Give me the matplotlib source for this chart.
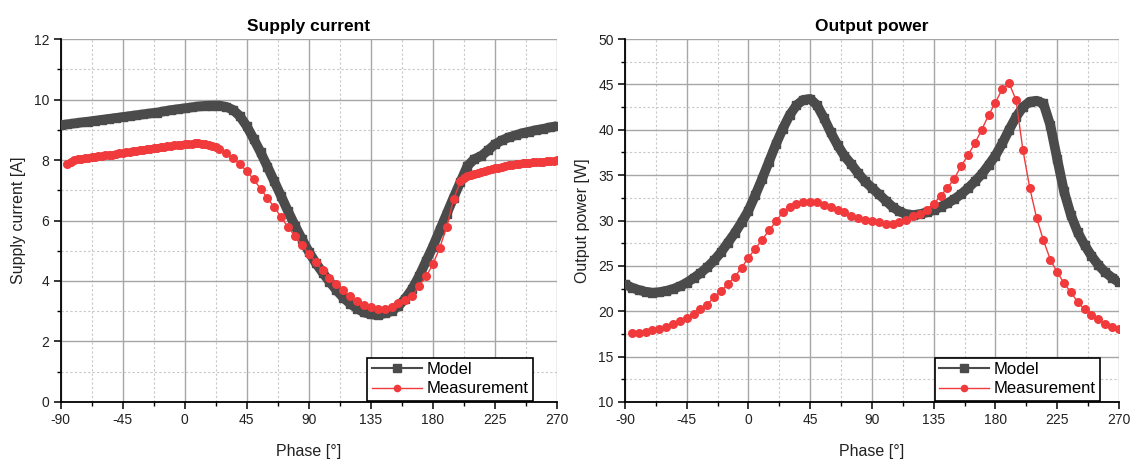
import matplotlib
matplotlib.use("Agg")
import matplotlib.pyplot as plt
import numpy as np
from matplotlib.ticker import MultipleLocator

plt.rcParams["font.family"] = ["Liberation Sans", "DejaVu Sans"]
plt.rcParams["axes.unicode_minus"] = False

# phase axis (degrees)
model_phase = np.arange(-90, 271, 5)
current_meas_phase = np.concatenate([np.arange(-85, 27.5, 2.5),
                                     np.arange(30, 205, 5),
                                     np.arange(202.5, 271, 2.5)])
power_meas_phase = np.arange(-85, 271, 5)

# supply current [A]
current_model = [
    9.15, 9.18, 9.21, 9.24, 9.27, 9.30, 9.33, 9.36, 9.39, 9.42,
    9.45, 9.48, 9.51, 9.54, 9.57, 9.61, 9.65, 9.68, 9.71, 9.74,
    9.77, 9.79, 9.80, 9.80, 9.76, 9.66, 9.45, 9.12, 8.70, 8.26,
    7.78, 7.29, 6.80, 6.30, 5.83, 5.39, 4.97, 4.60, 4.28, 3.98,
    3.70, 3.45, 3.25, 3.09, 2.96, 2.90, 2.88, 2.93, 3.00, 3.17,
    3.42, 3.74, 4.16, 4.65, 5.14, 5.68, 6.22, 6.76, 7.28, 7.80,
    8.03, 8.13, 8.32, 8.52, 8.65, 8.75, 8.82, 8.89, 8.94, 8.99,
    9.03, 9.08, 9.12,
]
current_meas = [
    7.88, 7.95, 8.00, 8.02, 8.04, 8.06, 8.07, 8.09, 8.10, 8.12,
    8.13, 8.15, 8.17, 8.18, 8.20, 8.22, 8.24, 8.25, 8.27, 8.29,
    8.30, 8.32, 8.34, 8.36, 8.37, 8.39, 8.41, 8.42, 8.44, 8.45,
    8.47, 8.48, 8.50, 8.51, 8.52, 8.53, 8.54, 8.55, 8.55, 8.54,
    8.53, 8.51, 8.47, 8.42, 8.37,
    8.22, 8.06, 7.86, 7.63, 7.36, 7.05, 6.74, 6.44, 6.10, 5.78,
    5.48, 5.20, 4.90, 4.63, 4.35, 4.10, 3.89, 3.70, 3.50, 3.34,
    3.22, 3.13, 3.09, 3.09, 3.14, 3.26, 3.36, 3.50, 3.85, 4.15,
    4.55, 5.10, 5.80, 6.70, 7.30,
    7.40, 7.46, 7.50, 7.53, 7.57, 7.60, 7.63, 7.66, 7.69, 7.72,
    7.75, 7.78, 7.80, 7.82, 7.84, 7.86, 7.88, 7.89, 7.90, 7.91,
    7.92, 7.93, 7.94, 7.95, 7.96, 7.97, 7.98, 8.00,
]

# output power [W]
power_model = [
    23.0, 22.6, 22.35, 22.15, 22.05, 22.1, 22.25, 22.45, 22.75, 23.15,
    23.65, 24.2, 24.85, 25.6, 26.5, 27.55, 28.6, 29.8, 31.1, 32.8,
    34.6, 36.5, 38.4, 40.1, 41.6, 42.7, 43.3, 43.4, 42.7, 41.3,
    39.7, 38.3, 37.1, 36.2, 35.2, 34.3, 33.6, 32.9, 32.2, 31.5,
    31.0, 30.7, 30.6, 30.7, 30.9, 31.15, 31.5, 31.9, 32.35, 32.9,
    33.55, 34.3, 35.1, 36.1, 37.15, 38.5, 40.0, 41.4, 42.5, 43.1,
    43.2, 42.9, 40.5, 36.8, 33.2, 30.6, 28.7, 27.3, 26.1, 25.1,
    24.3, 23.7, 23.2,
]
power_meas = [
    17.65, 17.65, 17.75, 17.9, 18.05, 18.25, 18.55, 18.95, 19.3, 19.7,
    20.2, 20.7, 21.6, 22.2, 23.0, 23.8, 24.8, 25.9, 26.9, 27.9,
    28.9, 29.9, 30.9, 31.45, 31.8, 32.0, 32.05, 32.0, 31.75, 31.45,
    31.2, 30.9, 30.5, 30.25, 30.1, 29.95, 29.8, 29.65, 29.65, 29.8,
    30.1, 30.45, 30.75, 31.2, 31.85, 32.7, 33.6, 34.6, 36.0, 37.2,
    38.5, 40.0, 41.6, 43.0, 44.5, 45.1, 43.3, 37.8, 33.6, 30.3,
    27.8, 25.7, 24.3, 23.1, 22.1, 21.0, 20.2, 19.6, 19.1, 18.6,
    18.3, 18.0,
]

MODEL_COLOR = "#4b4b4b"
MEAS_COLOR = "#f03a3c"


def style_axes(ax, ymin, ymax, ystep, title, ylabel):
    ax.set_xlim(-90, 270)
    ax.set_ylim(ymin, ymax)
    ax.xaxis.set_major_locator(MultipleLocator(45))
    ax.xaxis.set_minor_locator(MultipleLocator(22.5))
    ax.yaxis.set_major_locator(MultipleLocator(ystep))
    ax.yaxis.set_minor_locator(MultipleLocator(ystep / 2))
    ax.grid(which="major", color="#a6a6a6", linewidth=1.0, linestyle="-")
    ax.grid(which="minor", color="#c8c8c8", linewidth=0.8, linestyle=(0, (2, 2)))
    ax.set_axisbelow(True)
    for side in ("top", "right"):
        ax.spines[side].set_visible(False)
    for side in ("left", "bottom"):
        ax.spines[side].set_linewidth(1.3)
    ax.tick_params(which="major", direction="out", length=5, width=1.1, labelsize=10, pad=3,
                   labelcolor="#222222")
    ax.tick_params(which="minor", direction="out", length=3, width=1.0)
    ax.set_title(title, fontsize=12.5, fontweight="bold", pad=6)
    ax.set_xlabel("Phase [°]", fontsize=11.5, labelpad=12, color="#222222")
    ax.set_ylabel(ylabel, fontsize=11.5, labelpad=6, color="#222222")


def draw_series(ax, xm, ym, xs, ys):
    ax.plot(xm, ym, color=MODEL_COLOR, linewidth=7, marker="s", markersize=6,
            solid_joinstyle="round", solid_capstyle="butt", label="Model", zorder=3)
    ax.plot(xs, ys, color=MEAS_COLOR, linewidth=1.0, marker="o", markersize=6.5,
            markeredgewidth=0, label="Measurement", zorder=4)


fig = plt.figure(figsize=(11.34, 4.59), dpi=100)
ax1 = fig.add_axes([0.0534, 0.1242, 0.4378, 0.7908])
ax2 = fig.add_axes([0.5511, 0.1242, 0.4356, 0.7908])

draw_series(ax1, model_phase, current_model, current_meas_phase, current_meas)
style_axes(ax1, 0, 12, 2, "Supply current", "Supply current [A]")

draw_series(ax2, model_phase, power_model, power_meas_phase, power_meas)
style_axes(ax2, 10, 50, 5, "Output power", "Output power [W]")

for ax, anchor in ((ax1, (0.951, 0.004)), (ax2, (0.962, 0.004))):
    handles = [
        plt.Line2D([], [], color=MODEL_COLOR, linewidth=1.5, marker="s", markersize=6),
        plt.Line2D([], [], color=MEAS_COLOR, linewidth=1.0, marker="o", markersize=5.5,
                   markeredgewidth=0),
    ]
    leg = ax.legend(handles, ["Model", "Measurement"], loc="lower right",
                    bbox_to_anchor=anchor, fontsize=12, frameon=True, fancybox=False,
                    framealpha=1, edgecolor="black", borderpad=0.25, handlelength=3,
                    handletextpad=0.3, labelspacing=0.25, borderaxespad=0)
    leg.get_frame().set_linewidth(1.2)

fig.savefig("out.png", dpi=100)
